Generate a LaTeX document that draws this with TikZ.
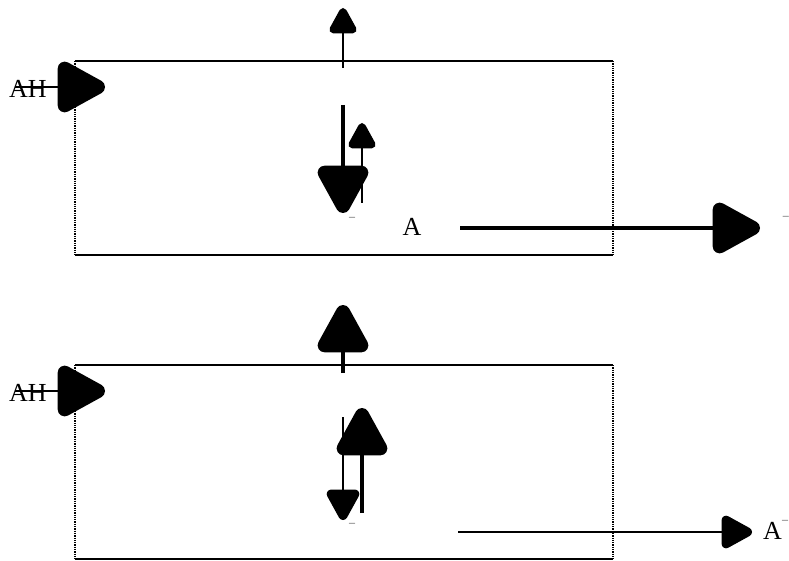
\documentclass[tikz,border=0pt]{standalone}
\usepackage{fontspec}
\setmainfont{Liberation Serif}
\usetikzlibrary{arrows.meta}

\begin{document}
\begin{tikzpicture}[
  x=1pt, y=-1pt,
  borde/.style={line width=1.3pt},
  lado/.style={densely dotted, line width=1.3pt},
  fina/.style={line width=1.6pt},
  gruesa/.style={line width=4.5pt},
  punta/.style={-{Triangle[round, length=#1, width=#1, line width=16pt]}},
  etiqueta/.style={font=\fontsize{26}{28}\selectfont, inner sep=0pt},
  marca/.style={font=\fontsize{12}{14}\selectfont, inner sep=0pt, text=black!70}
]
\useasboundingbox (0,0) rectangle (789,561);

% Caja superior
\draw[borde] (75,61) -- (613,61);
\draw[borde] (75,255) -- (613,255);
\draw[lado] (75,61) -- (75,255);
\draw[lado] (613,61) -- (613,255);

\node[etiqueta, anchor=west] (ah1) at (9,89) {AH};
\coordinate (ah1a) at (15,87);
\coordinate (ah1b) at (105,87);
\draw[fina, punta=56pt] (ah1a) -- (ah1b);

\coordinate (sup1a) at (343,68);
\coordinate (sup1b) at (343,8);
\draw[fina, punta=30pt] (sup1a) -- (sup1b);

\coordinate (baj1a) at (343,105);
\coordinate (baj1b) at (343,213);
\draw[gruesa, punta=56pt] (baj1a) -- (baj1b);

\coordinate (sub1a) at (362,203);
\coordinate (sub1b) at (362,123);
\draw[fina, punta=30pt] (sub1a) -- (sub1b);

\node[marca] (g1) at (352,219) {--};
\node[etiqueta] (a1) at (412,227) {A};

\coordinate (der1a) at (460,228);
\coordinate (der1b) at (760,228);
\draw[gruesa, punta=56pt] (der1a) -- (der1b);
\node[marca, anchor=east] (g2) at (789,218) {--};

% Caja inferior
\draw[borde] (75,365) -- (613,365);
\draw[borde] (75,559) -- (613,559);
\draw[lado] (75,365) -- (75,559);
\draw[lado] (613,365) -- (613,559);

\node[etiqueta, anchor=west] (ah2) at (9,393) {AH};
\coordinate (ah2a) at (15,391);
\coordinate (ah2b) at (105,391);
\draw[fina, punta=56pt] (ah2a) -- (ah2b);

\coordinate (sup2a) at (343,373);
\coordinate (sup2b) at (343,305);
\draw[gruesa, punta=56pt] (sup2a) -- (sup2b);

\coordinate (baj2a) at (343,417);
\coordinate (baj2b) at (343,520);
\draw[fina, punta=36pt] (baj2a) -- (baj2b);

\coordinate (sub2a) at (362,513);
\coordinate (sub2b) at (362,408);
\draw[gruesa, punta=56pt] (sub2a) -- (sub2b);

\node[marca] (g3) at (352,525) {--};

\coordinate (der2a) at (458,532);
\coordinate (der2b) at (752,532);
\draw[fina, punta=36pt] (der2a) -- (der2b);
\node[etiqueta, anchor=east] (a2) at (782,531) {A};
\node[marca, anchor=west] (g4) at (a2.north east) {--};
\end{tikzpicture}
\end{document}
